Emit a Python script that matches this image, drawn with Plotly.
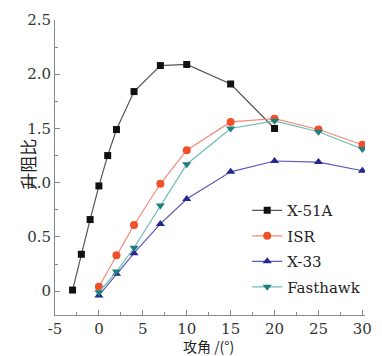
import plotly.graph_objects as go

x51_x = [-3, -2, -1, 0, 1, 2, 4, 7, 10, 15, 20]
x51_y = [0.01, 0.34, 0.66, 0.97, 1.25, 1.49, 1.84, 2.08, 2.09, 1.91, 1.50]
aoa = [0, 2, 4, 7, 10, 15, 20, 25, 30]
isr_y = [0.04, 0.33, 0.61, 0.99, 1.30, 1.56, 1.59, 1.49, 1.35]
x33_y = [-0.04, 0.16, 0.35, 0.62, 0.85, 1.10, 1.20, 1.19, 1.11]
fh_y = [-0.01, 0.18, 0.40, 0.79, 1.17, 1.50, 1.57, 1.47, 1.31]

xticks = [-5, 0, 5, 10, 15, 20, 25, 30]
yticks = [0, 0.5, 1.0, 1.5, 2.0, 2.5]
ytext = ["0", "0.5", "1.0", "1.5", "2.0", "2.5"]

font = "DejaVu Serif"
fig = go.Figure()
series = [
    ("X-51A", x51_x, x51_y, "#111111", "#555555", "square", 7),
    ("ISR", aoa, isr_y, "#f0502a", "#f38a78", "circle", 8),
    ("X-33", aoa, x33_y, "#24288c", "#5a5ab4", "triangle-up", 8),
    ("Fasthawk", aoa, fh_y, "#1f7f7c", "#6cbcb6", "triangle-down", 8),
]
for name, xs, ys, mc, lc, sym, sz in series:
    fig.add_trace(go.Scatter(x=xs, y=ys, name=name, legendgroup=name, mode="lines+markers",
                             line=dict(color=lc, width=1.2),
                             marker=dict(color=mc, symbol=sym, size=sz)))

axis_common = dict(showgrid=False, zeroline=False, showline=True, linecolor="#888888",
                   linewidth=1, ticks="inside", ticklen=5, tickcolor="#888888",
                   tickfont=dict(family=font, size=15, color="#333333"))
fig.update_xaxes(range=[-5, 30.3], tickvals=xticks, ticktext=[str(v) for v in xticks],
                 ticklabelstandoff=0,
                 minor=dict(dtick=2.5, tick0=0, ticks="inside", ticklen=3, tickcolor="#888888"),
                 **axis_common)
fig.update_yaxes(range=[-0.22, 2.5], tickvals=yticks, ticktext=ytext,
                 minor=dict(dtick=0.25, tick0=0, ticks="inside", ticklen=3, tickcolor="#888888"),
                 **axis_common)

fig.add_annotation(text="升阻比", textangle=-90, x=-0.088, y=0.512, xref="paper", yref="paper",
                   xanchor="center", yanchor="middle",
                   showarrow=False, font=dict(family="Noto Sans CJK SC", size=17, color="#222222"))
fig.add_annotation(text="攻角 /(°)", x=0.495, y=-0.104, xref="paper", yref="paper",
                   xanchor="center", yanchor="middle",
                   showarrow=False, font=dict(family="Noto Sans CJK SC", size=14, color="#222222"))

fig.update_layout(width=382, height=356, margin=dict(l=55, r=10, t=20, b=41),
                  plot_bgcolor="white", paper_bgcolor="white",
                  font=dict(family=font),
                  legend=dict(x=0.62, y=0.41, xanchor="left", yanchor="top",
                              bgcolor="rgba(0,0,0,0)", tracegroupgap=3,
                              font=dict(family=font, size=15, color="#222222"),
                              itemwidth=30))
fig.write_html("out.html")
